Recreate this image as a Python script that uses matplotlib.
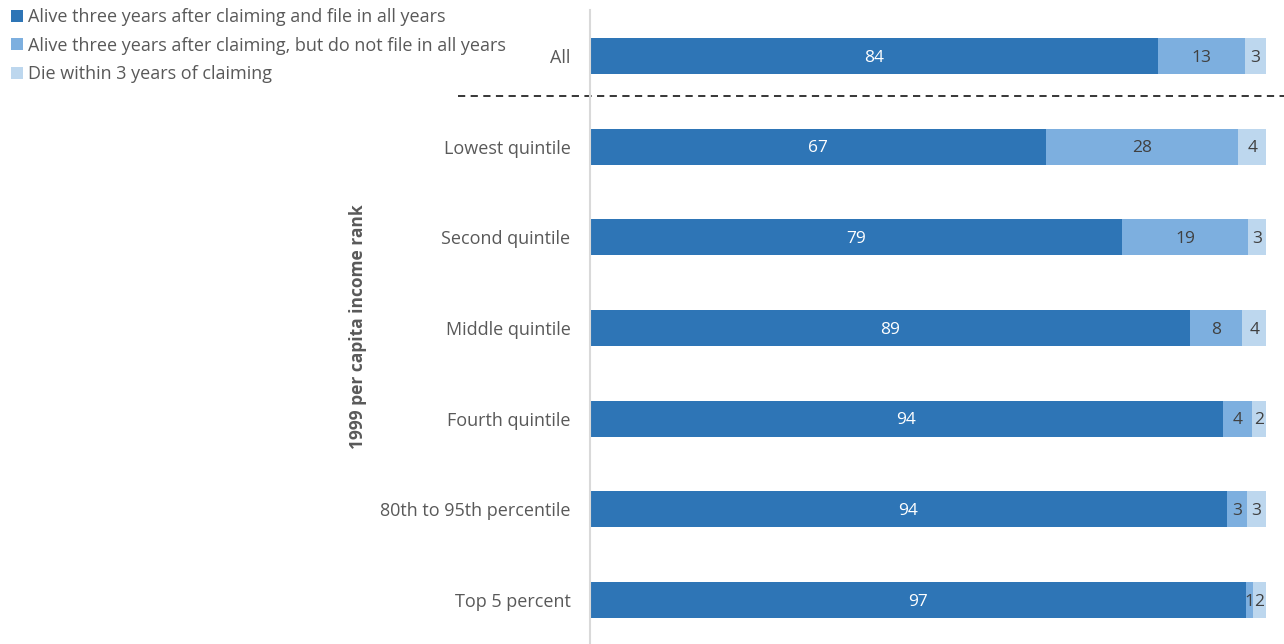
import numpy as np
import matplotlib.pyplot as plt
from matplotlib.patches import Patch

plt.rcParams['font.family'] = ['Open Sans', 'DejaVu Sans']

groups = ['All', 'Lowest quintile', 'Second quintile', 'Middle quintile',
          'Fourth quintile', '80th to 95th percentile', 'Top 5 percent']
alive_file = [84.0, 67.4, 78.7, 88.8, 93.6, 94.2, 97.1]
alive_nofile = [12.9, 28.5, 18.6, 7.7, 4.4, 3.0, 1.0]
died = [3.1, 4.1, 2.7, 3.5, 2.0, 2.8, 1.9]
labels_file = [84, 67, 79, 89, 94, 94, 97]
labels_nofile = [13, 28, 19, 8, 4, 3, 1]
labels_died = [3, 4, 3, 4, 2, 3, 2]

series_names = ['Alive three years after claiming and file in all years',
                'Alive three years after claiming, but do not file in all years',
                'Die within 3 years of claiming']
colors = ['#2E75B6', '#7DAFDF', '#BDD7EE']
text_cols = ['white', '#404040', '#404040']
label_gray = '#595959'

fig = plt.figure(figsize=(12.84, 6.44), dpi=100)
ax = fig.add_axes([590 / 1284, 0.0, 676 / 1284, 1 - 10 / 644])

y = np.arange(len(groups))
left = np.zeros(len(groups))
for vals, labs, c, tc in zip([alive_file, alive_nofile, died],
                             [labels_file, labels_nofile, labels_died],
                             colors, text_cols):
    vals = np.array(vals)
    ax.barh(y, vals, left=left, height=0.4, color=c, edgecolor='none')
    for yi, l, v, lab in zip(y, left, vals, labs):
        ax.text(l + v / 2, yi + 0.02, str(lab), ha='center', va='center',
                color=tc, fontsize=12.5)
    left = left + vals

ax.set_xlim(0, 100)
ax.set_ylim(6.485, -0.507)
ax.set_yticks(y)
ax.set_yticklabels(groups, color=label_gray, fontsize=13)
ax.tick_params(axis='y', length=0, pad=14)
ax.set_xticks([])
for s in ['top', 'right', 'bottom']:
    ax.spines[s].set_visible(False)
ax.spines['left'].set_color('#D9D9D9')
ax.spines['left'].set_linewidth(1.5)

# separator between the overall bar and the income groups
ax.plot([-0.195, 1.03], [0.44, 0.44], transform=ax.get_yaxis_transform(),
        color='#262626', linestyle=(0, (4, 3)), linewidth=1.3, clip_on=False)

fig.text(358 / 1284, 1 - 327 / 644, '1999 per capita income rank', rotation=90,
         ha='center', va='center', color=label_gray, fontsize=12.5, fontweight='bold')

handles = [Patch(facecolor=c, edgecolor='none') for c in colors]
leg = fig.legend(handles, series_names, loc='upper left', bbox_to_anchor=(0.0, 1.004),
                 frameon=False, fontsize=13, handlelength=0.65, handleheight=0.65,
                 handletextpad=0.3, labelspacing=0.58, borderaxespad=0.2)
for t in leg.get_texts():
    t.set_color(label_gray)

fig.savefig('out.png', dpi=100)
